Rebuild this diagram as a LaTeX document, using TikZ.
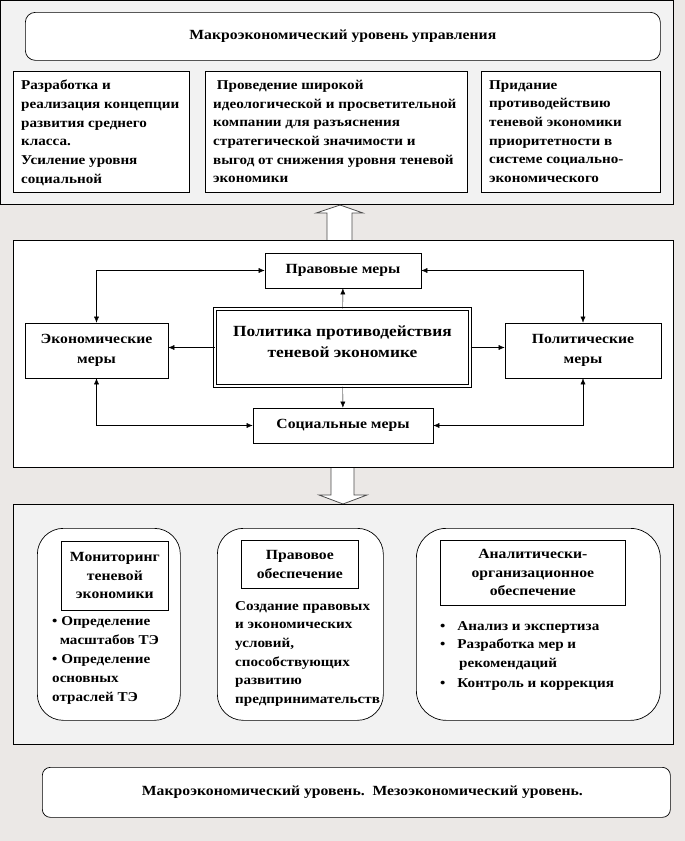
\documentclass[tikz,border=0pt]{standalone}
\usepackage{fontspec}
\setmainfont{Liberation Serif}[FakeStretch=1.12]
\usetikzlibrary{positioning,calc,arrows.meta}
\definecolor{bggray}{HTML}{EBE8E6}
\definecolor{panelgray}{HTML}{F2F2F2}
\tikzset{
  panel/.style={draw, fill=panelgray, line width=0.9pt, inner sep=0pt, anchor=north west},
  plainbox/.style={draw, fill=white, line width=0.7pt, inner sep=0pt, anchor=north west},
  roundbox/.style={plainbox, rounded corners=#1},
  measure/.style={draw, fill=white, line width=0.7pt, align=center, inner sep=2pt,
    font=\bfseries\fontsize{14}{20}\selectfont},
  boxtext/.style={inner sep=0pt, anchor=north west, align=left,
    font=\bfseries\fontsize{13.5}{18.7}\selectfont},
  headtext/.style={inner sep=0pt, align=center,
    font=\bfseries\fontsize{14}{18.5}\selectfont}
}
\begin{document}
\begin{tikzpicture}[x=1pt, y=-1pt, >={Latex[length=6pt,width=5pt]}]
\fill[bggray] (0,0) rectangle (685,841);
\useasboundingbox (0,0) rectangle (685,841);

% upper level
\node[panel, minimum width=673, minimum height=204] (upper) at (0,0) {};
\node[roundbox=10pt, minimum width=635, minimum height=48] (macro) at (25,12) {};
\node[headtext] (macroT) at (macro.center) {Макроэкономический уровень управления};
\node[plainbox, minimum width=176, minimum height=121] (razr) at (13,71) {};
\node[plainbox, minimum width=262, minimum height=121] (ideo) at (205,71) {};
\node[plainbox, minimum width=179, minimum height=121] (prior) at (481,71) {};
\node[boxtext] (razrT) at (21,80) {Разработка и\\реализация концепции\\развития среднего\\класса.\\Усиление уровня\\социальной};
\node[boxtext] (ideoT) at (213,80) {\ Проведение широкой\\идеологической и просветительной\\компании для разъяснения\\стратегической значимости и\\выгод от снижения уровня теневой\\экономики};
\node[boxtext] (priorT) at (489,80) {Придание\\противодействию\\теневой экономики\\приоритетности в\\системе социально-\\экономического};

% arrow up
\draw[fill=white, draw=black!70, line width=0.8pt] (327,240) -- (327,213) -- (316,213) -- (340,205) -- (363,213) -- (352,213) -- (352,240);

% measures
\node[plainbox, fill=white, minimum width=660, minimum height=227] (mid) at (13,240) {};
\node[measure, minimum width=255, minimum height=77, double, double distance=1.6pt, line width=1pt] (policy) at (342.5,347.5) {};
\node[inner sep=0pt, align=center, font=\bfseries\fontsize{15.5}{21}\selectfont, yshift=6pt] (policyT) at (policy.center) {Политика противодействия\\теневой экономике};
\node[measure, minimum width=156, minimum height=35] (legal) at (343,270.5) {Правовые меры};
\node[measure, minimum width=143, minimum height=55] (econ) at (96.5,350.5) {Экономические\\меры};
\node[measure, minimum width=156, minimum height=55] (polit) at (583,350.5) {Политические\\меры};
\node[measure, minimum width=180, minimum height=35] (social) at (343,425.5) {Социальные меры};
\draw[->] (policy) -- (legal);
\draw[->] (policy) -- (social);
\draw[->] (policy.west) -- (policy.west -| econ.east);
\draw[->] (policy.east) -- (policy.east -| polit.west);
\draw[<->] (econ.north) |- (legal.west);
\draw[<->] (polit.north) |- (legal.east);
\draw[<->] (econ.south) |- (social.west);
\draw[<->] (polit.south) |- (social.east);

% arrow down
\draw[fill=white, draw=black!70, line width=0.8pt] (331,468) -- (331,495) -- (319,495) -- (343,504) -- (367,495) -- (354,495) -- (354,468);

% support
\node[panel, minimum width=660, minimum height=240] (lower) at (13,504) {};
\node[roundbox=26pt, minimum width=143, minimum height=192] (monit) at (37,528) {};
\node[roundbox=26pt, minimum width=166, minimum height=192] (lawsup) at (217,528) {};
\node[roundbox=30pt, minimum width=244, minimum height=192] (analyt) at (416,528) {};
\node[plainbox, minimum width=107, minimum height=69] (monitH) at (61,541) {};
\node[plainbox, minimum width=117, minimum height=48] (lawsupH) at (241,540) {};
\node[plainbox, minimum width=185, minimum height=65] (analytH) at (440,540) {};
\node[headtext] (monitHT) at (monitH.center) {Мониторинг\\теневой\\экономики};
\node[headtext] (lawsupHT) at (lawsupH.center) {Правовое\\обеспечение};
\node[headtext] (analytHT) at (analytH.center) {Аналитически-\\организационное\\обеспечение};
\node[boxtext, font=\bfseries\fontsize{13.5}{19.1}\selectfont] (monitT) at (52,616) {• Определение\\\ \ масштабов ТЭ\\• Определение\\основных\\отраслей ТЭ};
\node[boxtext] (lawsupT) at (235,601) {Создание правовых\\и экономических\\условий,\\способствующих\\развитию\\предпринимательств};
\node[boxtext] (analytT) at (440,621) {•\hspace{12pt}Анализ и экспертиза\\•\hspace{12pt}Разработка мер и\\\hspace{19pt}рекомендаций\\[1.5pt]•\hspace{12pt}Контроль и коррекция};

% levels
\node[roundbox=8pt, minimum width=628, minimum height=50] (levels) at (42,767) {};
\node[headtext, xshift=6pt] (levelsT) at (levels.center) {Макроэкономический уровень.\ \ Мезоэкономический уровень.};
\end{tikzpicture}
\end{document}
